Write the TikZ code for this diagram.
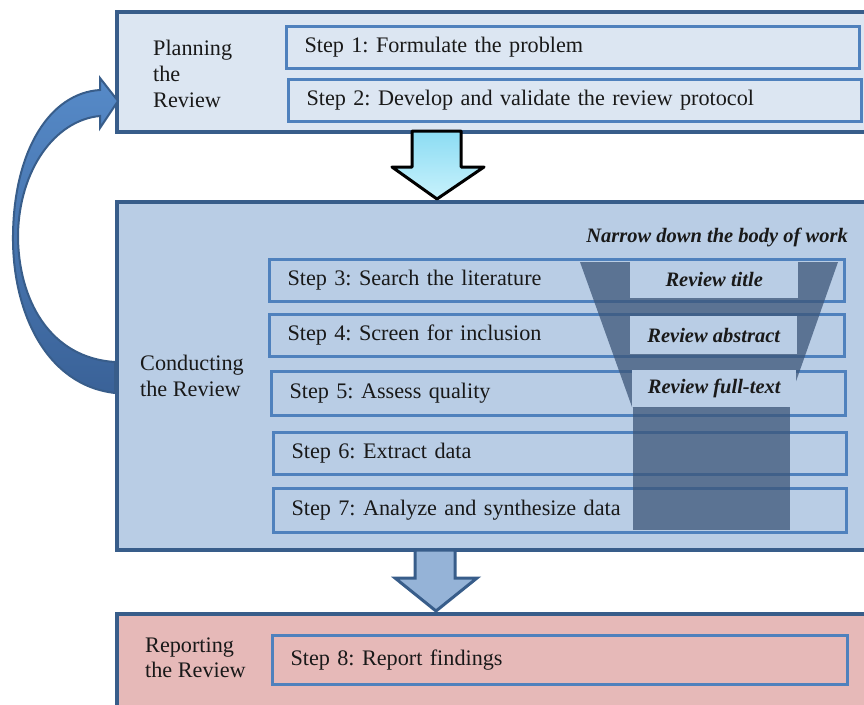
\documentclass[tikz,border=0pt]{standalone}
\usepackage{fontspec}
\setmainfont{Liberation Serif}
\frenchspacing
\definecolor{frame}{RGB}{56,93,138}
\definecolor{stepline}{RGB}{79,129,189}
\definecolor{planfill}{RGB}{220,230,242}
\definecolor{condfill}{RGB}{185,205,229}
\definecolor{repfill}{RGB}{230,185,184}
\definecolor{funnel}{RGB}{60,85,120}
\definecolor{txt}{RGB}{25,25,25}
\definecolor{arrowfill}{RGB}{149,179,215}
\begin{document}
\begin{tikzpicture}[x=1pt,y=-1pt,
  phase/.style={draw=frame,line width=4pt},
  stepbox/.style={draw=stepline,line width=3pt,anchor=north west,align=left,
     inner xsep=18pt,inner ysep=0pt,text=txt,font=\fontsize{22.2}{26}\selectfont},
  phaselabel/.style={anchor=west,align=left,inner sep=0pt,text=txt,font=\fontsize{22.2}{26}\selectfont},
  funnellabel/.style={fill=condfill,inner sep=0pt,anchor=north west,text=txt,
     font=\fontsize{20.5}{24}\selectfont\bfseries\itshape},
]
\useasboundingbox (0,0) rectangle (864,704);
\clip (0,0) rectangle (864,704);
% phase boxes
\node[phase,fill=planfill,anchor=north west,minimum width=770pt,minimum height=120pt,inner sep=0pt] (plan) at (115,10) {};
\node[phase,fill=condfill,anchor=north west,minimum width=770pt,minimum height=348pt,inner sep=0pt] (cond) at (115,200) {};
\node[phase,fill=repfill,anchor=north west,minimum width=770pt,minimum height=120pt,inner sep=0pt] (rep) at (115,612) {};
% phase labels
\node[phaselabel] (planlab) at (153,74) {Planning\\the\\Review};
\node[phaselabel] (condlab) at (140,376) {Conducting\\the Review};
\node[phaselabel,font=\fontsize{22.2}{25}\selectfont] (replab) at (145,658) {Reporting\\the Review};
% step boxes
\node[stepbox,text width=537pt,minimum height=42pt] (s1) at (285,25) {\strut Step 1: Formulate the problem};
\node[stepbox,text width=537pt,minimum height=42pt] (s2) at (287,78) {\strut Step 2: Develop and validate the review protocol};
\node[stepbox,text width=539pt,minimum height=42pt] (s3) at (268,258) {\strut Step 3: Search the literature};
\node[stepbox,text width=539pt,minimum height=42pt] (s4) at (268,313) {\strut Step 4: Screen for inclusion};
\node[stepbox,text width=538pt,minimum height=44pt] (s5) at (270,370) {\strut Step 5: Assess quality};
\node[stepbox,text width=537pt,minimum height=42pt] (s6) at (272,431) {\strut Step 6: Extract data};
\node[stepbox,text width=537pt,minimum height=44pt] (s7) at (272,487) {\strut Step 7: Analyze and synthesize data};
\node[stepbox,text width=539pt,minimum height=49pt] (s8) at (271,634) {\strut Step 8: Report findings};
% funnel
\fill[funnel,opacity=0.75] (580,262) -- (838,262) -- (787,407) -- (632,407) -- cycle;
\fill[funnel,opacity=0.75] (633,407) rectangle (790,530);
\node[funnellabel,minimum width=168pt,minimum height=37pt] (ft) at (630,261) {Review title};
\node[funnellabel,minimum width=167pt,minimum height=38pt] (fa) at (630,316) {Review abstract};
\node[funnellabel,minimum width=164pt,minimum height=37pt] (ff) at (632,370) {Review full-text};
\node[anchor=east,inner sep=0pt,text=txt,font=\fontsize{20.5}{24}\selectfont\bfseries\itshape] (narrow) at (848,237) {Narrow down the body of work};
% arrow plan -> cond
\draw[line width=3pt,draw=black,line join=round,top color={rgb,255:red,140;green,220;blue,243},bottom color={rgb,255:red,200;green,242;blue,252}]
  (412,131) -- (461,131) -- (461,167) -- (484,167) -- (437,199) -- (392,167) -- (412,167) -- cycle;
% arrow cond -> rep
\draw[line width=3pt,draw=frame,line join=miter,fill=arrowfill]
  (415,550) -- (455,550) -- (455,578) -- (477,578) -- (436,611) -- (395,578) -- (415,578) -- cycle;
% cycle arrow cond -> plan
\draw[line width=2pt,draw=frame,line join=miter,top color={rgb,255:red,86;green,138;blue,200},bottom color={rgb,255:red,58;green,98;blue,152}]
  (115,393) .. controls (45,385) and (12,310) .. (13,235)
  .. controls (14,150) and (50,93) .. (100,90)
  -- (100,78) -- (118,101) -- (100,128) -- (100,116)
  .. controls (55,120) and (19,170) .. (18,235)
  .. controls (18,300) and (50,358) .. (115,362) -- cycle;
\end{tikzpicture}
\end{document}
